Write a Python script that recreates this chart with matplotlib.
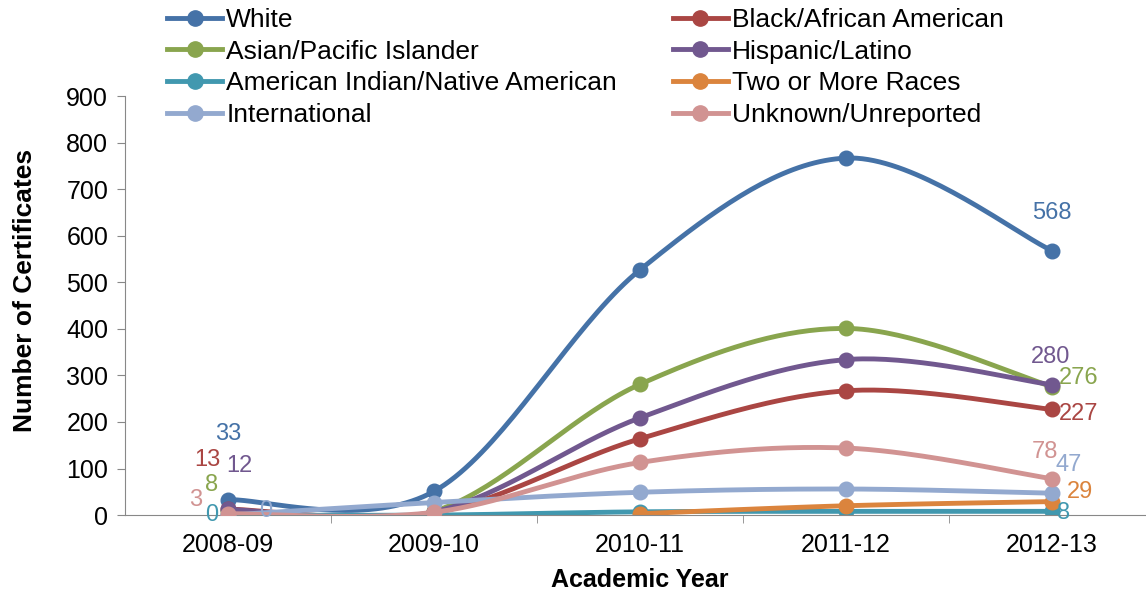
import numpy as np
import matplotlib.pyplot as plt

plt.rcParams['font.family'] = ['Liberation Sans', 'DejaVu Sans']

years = ["2008-09", "2009-10", "2010-11", "2011-12", "2012-13"]

white = [33, 51, 527, 767, 568]
black = [13, 5, 164, 267, 227]
asian = [8, 8, 281, 401, 276]
hispanic = [12, 7, 209, 334, 280]
am_indian = [0, 0, 7, 8, 8]
two_more = [None, None, 3, 20, 29]
international = [0, 27, 49, 56, 47]
unknown = [3, 6, 113, 144, 78]

names = ["White", "Black/African American", "Asian/Pacific Islander", "Hispanic/Latino",
         "American Indian/Native American", "Two or More Races", "International",
         "Unknown/Unreported"]
series = [white, black, asian, hispanic, am_indian, two_more, international, unknown]
colors = ["#4572A7", "#AA4643", "#89A54E", "#71588F", "#4198AF", "#DB843D", "#93A9CF", "#D19392"]

# label offsets in points (first point, last point)
first_off = {0: (0, 47), 1: (-15, 35), 2: (-12, 19), 3: (8, 31), 4: (-12, 0), 6: (27, 3), 7: (-23, 10)}
last_off = {0: (0, 27), 1: (19, -3), 2: (19, 6), 3: (-1, 20), 4: (8, -1), 5: (20, 7), 6: (12, 20), 7: (-5, 19)}


def smooth(xs, ys, n=40):
    # excel style bezier smoothing
    xs = np.asarray(xs, float)
    ys = np.asarray(ys, float)
    px, py = [], []
    for i in range(len(xs) - 1):
        i0 = max(i - 1, 0)
        i3 = min(i + 2, len(xs) - 1)
        p0 = np.array([xs[i], ys[i]])
        p3 = np.array([xs[i + 1], ys[i + 1]])
        c1 = p0 + (p3 - np.array([xs[i0], ys[i0]])) / 6
        c2 = p3 - (np.array([xs[i3], ys[i3]]) - p0) / 6
        t = np.linspace(0, 1, n)[:, None]
        pts = (1 - t) ** 3 * p0 + 3 * (1 - t) ** 2 * t * c1 + 3 * (1 - t) * t ** 2 * c2 + t ** 3 * p3
        px.extend(pts[:, 0])
        py.extend(pts[:, 1])
    return px, py


fig = plt.figure(figsize=(11.46, 5.9), dpi=100)
ax = fig.add_axes([0.109, 0.127, 0.899, 0.71])

handles = []
for k, (vals, name, c) in enumerate(zip(series, names, colors)):
    idx = [i for i, v in enumerate(vals) if v is not None]
    yv = [vals[i] for i in idx]
    sx, sy = smooth(idx, yv)
    ax.plot(sx, sy, color=c, lw=3.5, solid_capstyle='round', zorder=2 + k * 0.1)
    ax.plot(idx, yv, color=c, marker='o', ms=10.5, linestyle='none', zorder=2 + k * 0.1)
    handles.append(ax.plot([], [], color=c, lw=3.5, marker='o', ms=11)[0])
    if k in first_off:
        ax.annotate(str(vals[0]), (0, vals[0]), xytext=first_off[k], textcoords='offset points',
                    ha='center', va='center', color=c, fontsize=17)
    ax.annotate(str(vals[-1]), (4, vals[-1]), xytext=last_off[k], textcoords='offset points',
                ha='center', va='center', color=c, fontsize=17)

ax.set_xlim(-0.5, 4.5)
ax.set_ylim(0, 900)
ax.set_yticks(range(0, 901, 100))
ax.set_xticks(range(5))
ax.set_xticklabels(years)
ax.set_xticks(np.arange(0.5, 4.5, 1), minor=True)
ax.tick_params(axis='x', which='major', length=0, labelsize=18, pad=13)
ax.tick_params(axis='x', which='minor', length=6, color='#888888', direction='out')
ax.tick_params(axis='y', length=6, color='#888888', labelsize=18, pad=6)
for s in ['top', 'right']:
    ax.spines[s].set_visible(False)
for s in ['left', 'bottom']:
    ax.spines[s].set_color('#888888')
ax.set_ylabel('Number of Certificates', fontsize=19, fontweight='bold')
ax.set_xlabel('Academic Year', fontsize=18, fontweight='bold', labelpad=8)
ax.yaxis.set_label_coords(-0.085, 0.537)

order = [0, 2, 4, 6, 1, 3, 5, 7]
fig.legend([handles[i] for i in order], [names[i] for i in order], ncol=2,
           loc='upper left', bbox_to_anchor=(167 / 1146, 1 - 8 / 590), frameon=False, fontsize=19,
           handlelength=2.1, handletextpad=0.15, columnspacing=2.1, labelspacing=0.29,
           borderaxespad=0, borderpad=0)

fig.savefig('out.png', dpi=100)
